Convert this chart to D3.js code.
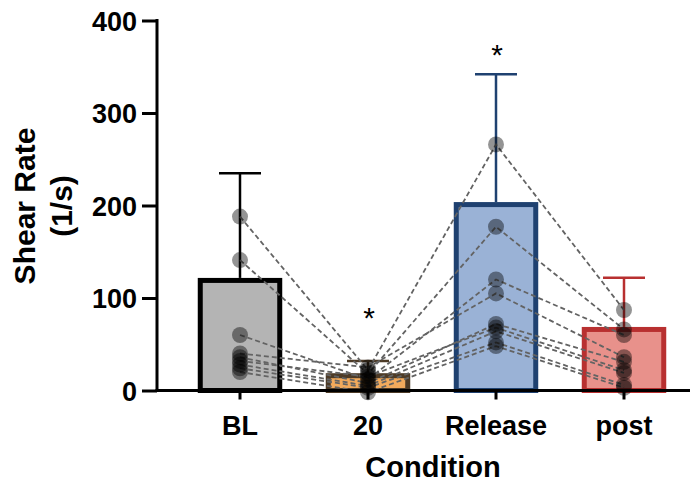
<!DOCTYPE html>
<html><head><meta charset="utf-8">
<script src="https://cdn.jsdelivr.net/npm/d3@7"></script>
<style>body{margin:0;background:#fff}svg{display:block}text{font-family:Arial,"Liberation Sans",sans-serif}</style>
</head><body><svg id="c" width="700" height="483"></svg>
<script>
const categories = ["BL", "20", "Release", "post"];
const barMeans = [119, 16, 201, 66];
const barSD = [116, 16, 141, 56];
const yTicks = [0, 100, 200, 300, 400];
// subject values per condition (same index = same subject)
const subjBL      = [188, 141, 60, 40, 36, 32, 28, 24, 20];
const subj20      = [22, 18, 12, 25, 8, 15, 5, 3, -2];
const subjRelease = [266, 177, 120, 105, 72, 68, 64, 52, 48];
const subjPost    = [87, 66, 60, 36, 31, 22, 19, 6, 3];
// asterisk levels (y value of the asterisk centre), null = none
const starLevel = [null, 87, 371, null];

const fills = ["#b4b4b4", "#f2aa5c", "#9ab2d6", "#e8918b"];
const strokes = ["#000000", "#4d3b27", "#1f4170", "#b83030"];

const svg = d3.select("#c");
const y = d3.scaleLinear().domain([0, 400]).range([390.5, 20.5]);
const x = d3.scaleBand().domain(categories).range([176, 688]).paddingInner(0.34).paddingOuter(0.17);
const bw = x.bandwidth();

// bars
const bars = categories.map((c, i) => ({c, i, m: barMeans[i], sd: barSD[i]}));
svg.selectAll("rect.bar").data(bars).enter().append("rect")
  .attr("x", d => x(d.c) + 2.5).attr("width", bw - 5)
  .attr("y", d => y(d.m)).attr("height", d => y(0) - y(d.m))
  .attr("fill", d => fills[d.i]).attr("stroke", d => strokes[d.i]).attr("stroke-width", 5);

// error bars
const cx = c => x(c) + bw / 2;
svg.selectAll("line.err").data(bars).enter().append("line")
  .attr("x1", d => cx(d.c)).attr("x2", d => cx(d.c))
  .attr("y1", d => y(d.m) - 2.5).attr("y2", d => y(d.m + d.sd))
  .attr("stroke", d => strokes[d.i]).attr("stroke-width", 2.5);
svg.selectAll("line.cap").data(bars).enter().append("line")
  .attr("x1", d => cx(d.c) - 21).attr("x2", d => cx(d.c) + 21)
  .attr("y1", d => y(d.m + d.sd)).attr("y2", d => y(d.m + d.sd))
  .attr("stroke", d => strokes[d.i]).attr("stroke-width", 2.5);

// subject lines
const series = [subjBL, subj20, subjRelease, subjPost];
const subjects = subjBL.map((_, k) => series.map((s, i) => ({c: categories[i], v: s[k]})));
const line = d3.line().x(d => cx(d.c)).y(d => y(d.v));
svg.selectAll("path.subj").data(subjects).enter().append("path")
  .attr("d", line).attr("fill", "none").attr("stroke", "#636363")
  .attr("stroke-width", 1.8).attr("stroke-dasharray", "5,3");

// points
const pts = [];
series.forEach((s, i) => s.forEach(v => pts.push({c: categories[i], v})));
svg.selectAll("circle.pt").data(pts).enter().append("circle")
  .attr("cx", d => cx(d.c)).attr("cy", d => y(d.v)).attr("r", 8)
  .attr("fill", "#000").attr("fill-opacity", 0.42);

// axes
const yAxis = d3.axisLeft(y).tickValues(yTicks).tickSize(15).tickPadding(5);
const gy = svg.append("g").attr("transform", "translate(157,0)").call(yAxis);
gy.select(".domain").attr("stroke-width", 3).attr("d", "M0,19V392");
gy.selectAll(".tick line").attr("stroke-width", 3);
gy.selectAll(".tick text").attr("font-size", 27).attr("font-weight", "bold").attr("dy", "0.36em").attr("fill", "#000");

const xAxis = d3.axisBottom(x).tickSize(9).tickPadding(16);
const gx = svg.append("g").attr("transform", "translate(0,390.5)").call(xAxis);
gx.select(".domain").attr("stroke-width", 3).attr("d", "M155.5,0H690");
gx.selectAll(".tick line").attr("stroke-width", 3);
gx.selectAll(".tick text").attr("font-size", 27).attr("font-weight", "bold").attr("fill", "#000");

// asterisks
svg.selectAll("text.star").data(bars.filter(d => starLevel[d.i] != null)).enter().append("text")
  .attr("x", d => cx(d.c) + 1).attr("y", d => y(starLevel[d.i]) + 18)
  .attr("text-anchor", "middle").attr("font-size", 30).text("*");

// axis titles
svg.append("text").attr("x", 433).attr("y", 477).attr("text-anchor", "middle")
  .attr("font-size", 29).attr("font-weight", "bold").text("Condition");
const yl = svg.append("text").attr("transform", "translate(35,206) rotate(-90)")
  .attr("text-anchor", "middle").attr("font-size", 30).attr("font-weight", "bold");
yl.append("tspan").attr("x", 0).attr("dy", 0).text("Shear Rate");
yl.append("tspan").attr("x", 0).attr("dy", 37).text("(1/s)");
</script></body></html>
